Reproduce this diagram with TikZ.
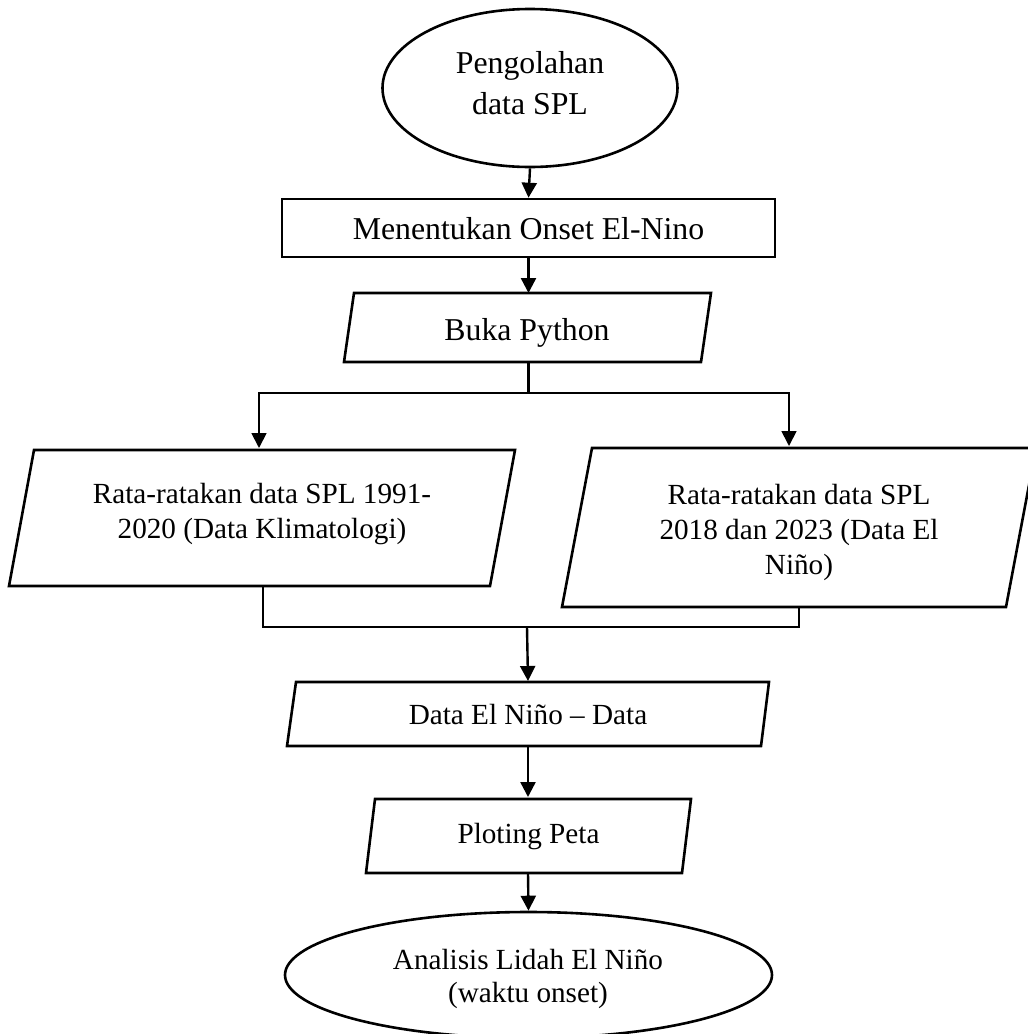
\documentclass[tikz,border=0pt]{standalone}
\usepackage{fontspec}
\setmainfont{Liberation Serif}
\usetikzlibrary{arrows.meta,shapes.geometric}
\begin{document}
\begin{tikzpicture}[x=1pt,y=-1pt,
  shapeline/.style={draw=black, line width=2.6pt, line join=miter},
  flow/.style={line width=2.4pt, -{Triangle[width=15pt,length=15pt]}},
  splitarrow/.style={line width=1.8pt, -{Triangle[width=15pt,length=15pt]}},
  trunk/.style={line width=2.2pt},
  thinline/.style={line width=1.5pt},
  bigtxt/.style={font=\fontsize{31.8}{41.7}\selectfont, align=center, inner sep=0pt},
  smalltxt/.style={font=\fontsize{29.2}{35}\selectfont, align=center, inner sep=0pt},
  ovaltxt/.style={font=\fontsize{29.2}{33}\selectfont, align=center, inner sep=0pt}]
\useasboundingbox (0,0) rectangle (1028,1034);
\clip (0,0) rectangle (1028,1034);

% start ellipse
\node[shapeline, ellipse, minimum width=295pt, minimum height=158pt, inner sep=0pt] (start) at (530,88) {};
\node[bigtxt] (startT) at (530,83) {Pengolahan\\data SPL};

% rectangle
\node[shapeline, rectangle, minimum width=493pt, minimum height=58pt, inner sep=0pt] (onset) at (528.5,228) {};
\node[bigtxt] (onsetT) at (528.5,229) {Menentukan Onset El-Nino};

% Buka Python
\draw[shapeline] (354,293) -- (711,293) -- (701,362) -- (344,362) -- cycle;
\coordinate (bukaN) at (528.5,293);
\coordinate (bukaS) at (528.5,362);
\node[bigtxt] (buka) at (527,332.6) {Buka Python};

% left box
\draw[shapeline] (34,450) -- (515,450) -- (490,586) -- (9,586) -- cycle;
\coordinate (leftN) at (259,448);
\coordinate (leftS) at (263,586);
\node[smalltxt] (leftT) at (262,513.7) {Rata-ratakan data SPL 1991-\\2020 (Data Klimatologi)};

% right box
\draw[shapeline] (592,448) -- (1036,448) -- (1006,607) -- (562,607) -- cycle;
\coordinate (rightN) at (789,446);
\coordinate (rightS) at (799,607);
\node[smalltxt] (rightT) at (799,532.6) {Rata-ratakan data SPL\\2018 dan 2023 (Data El\\Niño)};

% Data El Nino
\draw[shapeline] (296,682) -- (769,682) -- (761,746) -- (287,746) -- cycle;
\coordinate (dataN) at (528,681);
\coordinate (dataS) at (528,746);
\node[smalltxt] (dataT) at (528,715) {Data El Niño – Data};

% Ploting Peta
\draw[shapeline] (375,799) -- (691,799) -- (682,873) -- (366,873) -- cycle;
\coordinate (plotN) at (528,797);
\coordinate (plotS) at (528,873);
\node[smalltxt] (plotT) at (528.5,836.2) {Ploting Peta};

% end ellipse
\node[shapeline, ellipse, minimum width=487pt, minimum height=126pt, inner sep=0pt] (finish) at (528.5,975) {};
\node[ovaltxt] (finishT) at (528,979.2) {Analisis Lidah El Niño\\(waktu onset)};

% connectors
\draw[flow] (start.south) -- (onset.north);
\draw[flow] (onset.south) -- (bukaN);
\coordinate (splitC) at (528.5,393);
\draw[trunk] (bukaS) -- (splitC);
\draw[splitarrow] (splitC) -| (leftN);
\draw[splitarrow] (splitC) -| (rightN);
\coordinate (joinC) at (527,627);
\draw[thinline] (leftS) |- (joinC) -| (rightS);
\draw[flow] (joinC) -- (dataN);
\draw[flow] (dataS) -- (plotN);
\draw[flow] (plotS) -- (finish.north);
\end{tikzpicture}
\end{document}
